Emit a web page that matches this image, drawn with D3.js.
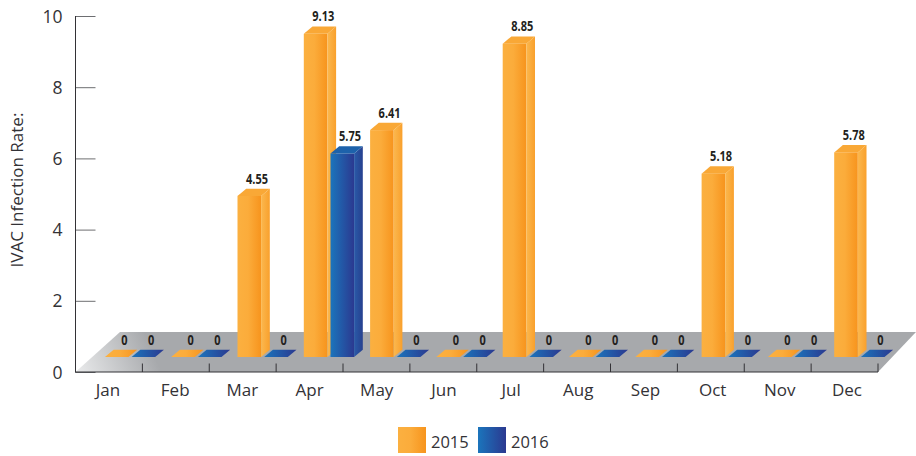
<!DOCTYPE html>
<html><head><meta charset="utf-8">
<script src="https://cdn.jsdelivr.net/npm/d3@7"></script>
<style>html,body{margin:0;padding:0;background:#fff}svg{display:block}</style>
</head><body><svg id="c" width="916" height="456"></svg>
<script>
const months = ["Jan","Feb","Mar","Apr","May","Jun","Jul","Aug","Sep","Oct","Nov","Dec"];
const seriesNames = ["2015","2016"];
const values2015 = [0,0,4.55,9.13,6.41,0,8.85,0,0,5.18,0,5.78];
const values2016 = [0,0,0,5.75,0,0,0,0,0,0,0,0];
const yTicks = [0,2,4,6,8,10];

const svg = d3.select("#c");
const font = "'Open Sans','Noto Sans',sans-serif";
const ink = "#333236";
const x = d3.scaleBand().domain(months).range([75.5, 878]);
const xLabel = d3.scalePoint().domain(months).range([108, 847]);
const xBar = d3.scaleBand().domain(months).range([104.9, 900.5]);
const xs = d3.scaleBand().domain(seriesNames).range([0, 50.3]).paddingInner(0.116);
const y = d3.scaleLinear().domain([0,10]).range([372,16]);
const yBar = d3.scaleLinear().domain([0,10]).range([357,3]);
const dx = 8.7, dy = 7.3;
const floorDX = 44.5, floorDY = 40;

const defs = svg.append("defs");
function grad(id, stops){
  const g = defs.append("linearGradient").attr("id",id)
    .attr("x1",0).attr("y1",0).attr("x2",1).attr("y2",0);
  stops.forEach(([o,c])=>g.append("stop").attr("offset",o).attr("stop-color",c));
}
grad("o",[[0,"#fbb040"],[0.45,"#fbac3b"],[1,"#f7941d"]]);
grad("b",[[0,"#1b75bc"],[1,"#2b3990"]]);
grad("os",[[0,"#fbb84f"],[1,"#f9a02c"]]);
grad("bs",[[0,"#2a5aa8"],[1,"#26408f"]]);
defs.append("linearGradient").attr("id","fl").attr("gradientUnits","userSpaceOnUse")
  .attr("x1",78).attr("y1",375).attr("x2",150).attr("y2",345)
  .call(g=>{g.append("stop").attr("offset",0).attr("stop-color","#e9eaeb");
            g.append("stop").attr("offset",1).attr("stop-color","#a7a9ac");});

const x0 = x.range()[0], x1 = x.range()[1], yb = y(0);
const line = d3.line();
svg.append("path").attr("fill","url(#fl)")
  .attr("d", line([[x0,yb],[x1,yb],[x1+38,yb-floorDY],[x0+floorDX,yb-floorDY]])+"Z");

const ax = svg.append("g").attr("transform",`translate(${x0},0)`)
  .call(d3.axisRight(y).tickValues(yTicks).tickSize(20).tickFormat(""));
ax.select(".domain").remove();
ax.selectAll("line").attr("stroke","#6d6e71").attr("stroke-width",1);
svg.append("line").attr("x1",x0).attr("x2",x0).attr("y1",y(10)).attr("y2",yb+.5).attr("stroke",ink).attr("stroke-width",1);
svg.selectAll(".yl").data(yTicks).join("text").attr("class","yl")
  .attr("x",62.5).attr("y",d=>y(d)+6.5).attr("text-anchor","end")
  .attr("font-family",font).attr("font-size",17.5).attr("fill",ink).text(d=>d);

svg.append("line").attr("x1",x0).attr("x2",x1).attr("y1",yb).attr("y2",yb).attr("stroke",ink).attr("stroke-width",1);
svg.selectAll(".xt").data(months).join("line").attr("class","xt")
  .attr("x1",d=>x(d)+x.step()).attr("x2",d=>x(d)+x.step())
  .attr("y1",yb).attr("y2",yb-8.5).attr("stroke",ink).attr("stroke-width",1);
svg.selectAll(".xl").data(months).join("text").attr("class","xl")
  .attr("x",d=>xLabel(d)).attr("y",yb+23.5).attr("text-anchor","middle")
  .attr("font-family",font).attr("font-size",17).attr("fill",ink).text(d=>d);

svg.append("text").attr("transform","translate(23,190) rotate(-90)").attr("text-anchor","middle")
  .attr("font-family",font).attr("font-size",17).attr("fill",ink).text("IVAC Infection Rate:");

const rows = [];
months.forEach((m,i)=>{
  rows.push({m,s:"2015",v:values2015[i],k:"o"});
  rows.push({m,s:"2016",v:values2016[i],k:"b"});
});
const bw = xs.bandwidth();
const tops = {o:"#f9a836",b:"#1d62ab"};
svg.selectAll(".bar").data(rows).join("g").attr("class","bar").each(function(d){
  const sel = d3.select(this);
  const L = xBar(d.m)+xs(d.s), R = L+bw, B = yBar(0), T = yBar(d.v);
  if(d.v>0){
    sel.append("rect").attr("x",L).attr("y",T).attr("width",bw).attr("height",B-T).attr("fill",`url(#${d.k})`);
    sel.append("path").attr("fill",`url(#${d.k}s)`)
      .attr("d",line([[R,T],[R+dx,T-dy],[R+dx,B-dy],[R,B]])+"Z");
  }
  sel.append("path").attr("fill", d.v>0 ? tops[d.k] : `url(#${d.k})`)
    .attr("d",line([[L,T],[L+dx,T-dy],[R+dx,T-dy],[R,T]])+"Z");
  sel.append("text").attr("transform",`translate(${L+19.5},${T-dy-5}) scale(0.76,1)`).attr("text-anchor","middle")
    .attr("font-family",font).attr("font-weight",700)
    .attr("font-size",14.5).attr("fill","#231f20").text(d.v);
});

const lg = svg.selectAll(".lg").data(seriesNames).join("g").attr("class","lg")
  .attr("transform",(d,i)=>`translate(${398+i*80},427)`);
lg.append("rect").attr("width",28).attr("height",26).attr("fill",(d,i)=>`url(#${i?"b":"o"})`);
lg.append("text").attr("x",33).attr("y",20.5).attr("font-family",font).attr("font-size",16.5).attr("fill",ink).text(d=>d);
</script></body></html>
